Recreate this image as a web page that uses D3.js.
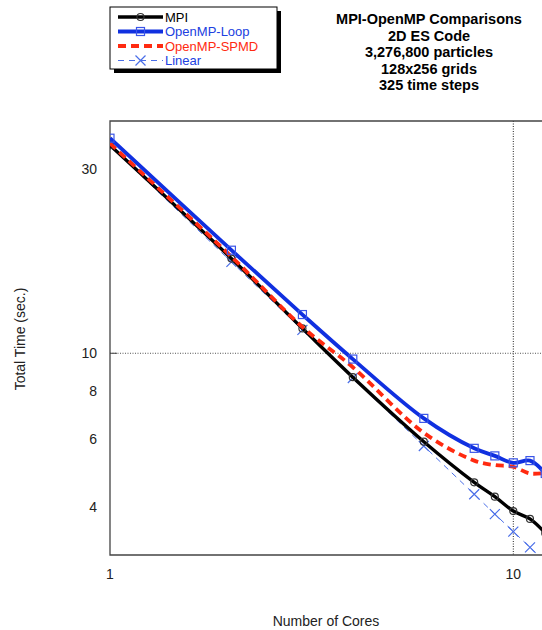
<!DOCTYPE html>
<html>
<head>
<meta charset="utf-8">
<script src="https://cdn.jsdelivr.net/npm/d3@7"></script>
<style>
  body { margin: 0; background: #fff; }
  svg { display: block; font-family: "Liberation Sans", Arial, sans-serif; }
</style>
</head>
<body>
<svg id="chart" width="542" height="630"></svg>
<script>
// cores and timings
const cores = [1, 2, 3, 4, 6, 8, 9, 10, 11, 12];
const mpi = [34.6, 17.6, 11.6, 8.67, 5.9, 4.63, 4.25, 3.9, 3.72, 3.42];
const ompLoop = [36.1, 18.5, 12.6, 9.66, 6.78, 5.67, 5.42, 5.2, 5.27, 4.88];
const ompSpmd = [35.0, 17.8, 11.7, 9.2, 6.22, 5.27, 5.13, 5.08, 4.88, 4.9];
const linear = [34.5, 17.25, 11.5, 8.63, 5.75, 4.31, 3.83, 3.45, 3.14, 2.88];
const yTicks = [4, 6, 8, 10, 30];
const xTicks = [1, 10];
const titleLines = ["MPI-OpenMP Comparisons", "2D ES Code", "3,276,800 particles", "128x256 grids", "325 time steps"];

const svg = d3.select("#chart");
const pLeft = 110, pTop = 121, pBottom = 555, pRight = 560;

const x = d3.scaleLog().domain([1, 10]).range([pLeft, 513.3]);
const y = d3.scaleLog().domain([3, 40]).range([pBottom, pTop]);

svg.append("clipPath").attr("id", "plotClip")
    .append("rect").attr("x", pLeft).attr("y", pTop)
    .attr("width", pRight - pLeft).attr("height", pBottom - pTop);

// dotted grid at the decades
svg.append("line").attr("x1", pLeft).attr("x2", pRight)
    .attr("y1", y(10)).attr("y2", y(10))
    .attr("stroke", "#555").attr("stroke-width", 1).attr("stroke-dasharray", "1,1.5");
svg.append("line").attr("x1", x(10)).attr("x2", x(10))
    .attr("y1", pTop).attr("y2", pBottom)
    .attr("stroke", "#222").attr("stroke-width", 1).attr("stroke-dasharray", "1,1.5");

// frame
svg.append("path")
    .attr("d", `M${pRight},${pTop}H${pLeft}V${pBottom}H${pRight}`)
    .attr("fill", "none").attr("stroke", "#444").attr("stroke-width", 1.3);
svg.append("line").attr("x1", pLeft).attr("x2", pLeft + 7)
    .attr("y1", y(10)).attr("y2", y(10)).attr("stroke", "#444");

// tick labels
svg.append("g").selectAll("text").data(yTicks).enter().append("text")
    .attr("x", 97).attr("y", d => y(d) + 5)
    .attr("text-anchor", "end").attr("font-size", 14).attr("fill", "#222")
    .text(d => d);
svg.append("g").selectAll("text").data(xTicks).enter().append("text")
    .attr("x", d => x(d)).attr("y", 579)
    .attr("text-anchor", "middle").attr("font-size", 14).attr("fill", "#222")
    .text(d => d);

// axis titles
svg.append("text").attr("x", 326).attr("y", 626)
    .attr("text-anchor", "middle").attr("font-size", 14).attr("fill", "#222")
    .text("Number of Cores");
svg.append("text").attr("transform", "translate(25,339) rotate(-90)")
    .attr("text-anchor", "middle").attr("font-size", 14).attr("fill", "#222")
    .text("Total Time (sec.)");

// curves
const pts = vals => cores.map((c, i) => [c, vals[i]]);
const line = d3.line().x(d => x(d[0])).y(d => y(d[1])).curve(d3.curveCatmullRom.alpha(0.5));
const plot = svg.append("g").attr("clip-path", "url(#plotClip)");

const series = [
    { name: "Linear", vals: linear, color: "#4a6ee8", width: 1, dash: "6,5", mark: "x" },
    { name: "MPI", vals: mpi, color: "#000", width: 3.4, dash: null, mark: "circle" },
    { name: "OpenMP-SPMD", vals: ompSpmd, color: "#ff2a10", width: 3.8, dash: "8,5", mark: null },
    { name: "OpenMP-Loop", vals: ompLoop, color: "#1030e0", width: 3.8, dash: null, mark: "square" }
];

function drawMark(g, kind, cx, cy, color) {
    if (kind === "circle") {
        g.append("circle").attr("cx", cx).attr("cy", cy).attr("r", 3.5)
            .attr("fill", "none").attr("stroke", "#333").attr("stroke-width", 1.2);
    } else if (kind === "square") {
        g.append("rect").attr("x", cx - 4).attr("y", cy - 4).attr("width", 8).attr("height", 8)
            .attr("fill", "none").attr("stroke", "#3a55e8").attr("stroke-width", 1.2);
    } else if (kind === "x") {
        g.append("path").attr("d", `M${cx - 5},${cy - 5}L${cx + 5},${cy + 5}M${cx - 5},${cy + 5}L${cx + 5},${cy - 5}`)
            .attr("stroke", color).attr("stroke-width", 1.2);
    }
}

series.forEach(s => {
    plot.append("path").datum(pts(s.vals)).attr("d", line)
        .attr("fill", "none").attr("stroke", s.color).attr("stroke-width", s.width)
        .attr("stroke-dasharray", s.dash).attr("stroke-linejoin", "round");
    if (s.mark) pts(s.vals).forEach(p => drawMark(plot, s.mark, x(p[0]), y(p[1]), s.color));
});

// legend box with shadow
const lg = svg.append("g");
lg.append("rect").attr("x", 114).attr("y", 11).attr("width", 167).attr("height", 62).attr("fill", "#000");
lg.append("rect").attr("x", 110).attr("y", 7).attr("width", 167).attr("height", 62)
    .attr("fill", "#fff").attr("stroke", "#000").attr("stroke-width", 1);
const legendRows = [
    { label: "MPI", text: "#000", s: series[1] },
    { label: "OpenMP-Loop", text: "#2040e0", s: series[3] },
    { label: "OpenMP-SPMD", text: "#ff2a10", s: series[2] },
    { label: "Linear", text: "#2040e0", s: series[0] }
];
legendRows.forEach((r, i) => {
    const ly = 17 + i * 14.5;
    lg.append("line").attr("x1", 118).attr("x2", 163).attr("y1", ly).attr("y2", ly)
        .attr("stroke", r.s.color).attr("stroke-width", r.s.width)
        .attr("stroke-dasharray", r.s.dash);
    if (r.s.mark) drawMark(lg, r.s.mark, 140.5, ly, r.s.color);
    lg.append("text").attr("x", 165).attr("y", ly + 4.5)
        .attr("font-size", 13).attr("fill", r.text).text(r.label);
});

// title block
svg.append("g").selectAll("text").data(titleLines).enter().append("text")
    .attr("x", 429).attr("y", (d, i) => 24 + i * 16.6)
    .attr("text-anchor", "middle").attr("font-size", 14.5).attr("font-weight", "bold")
    .attr("fill", "#000").text(d => d);
</script>
</body>
</html>
